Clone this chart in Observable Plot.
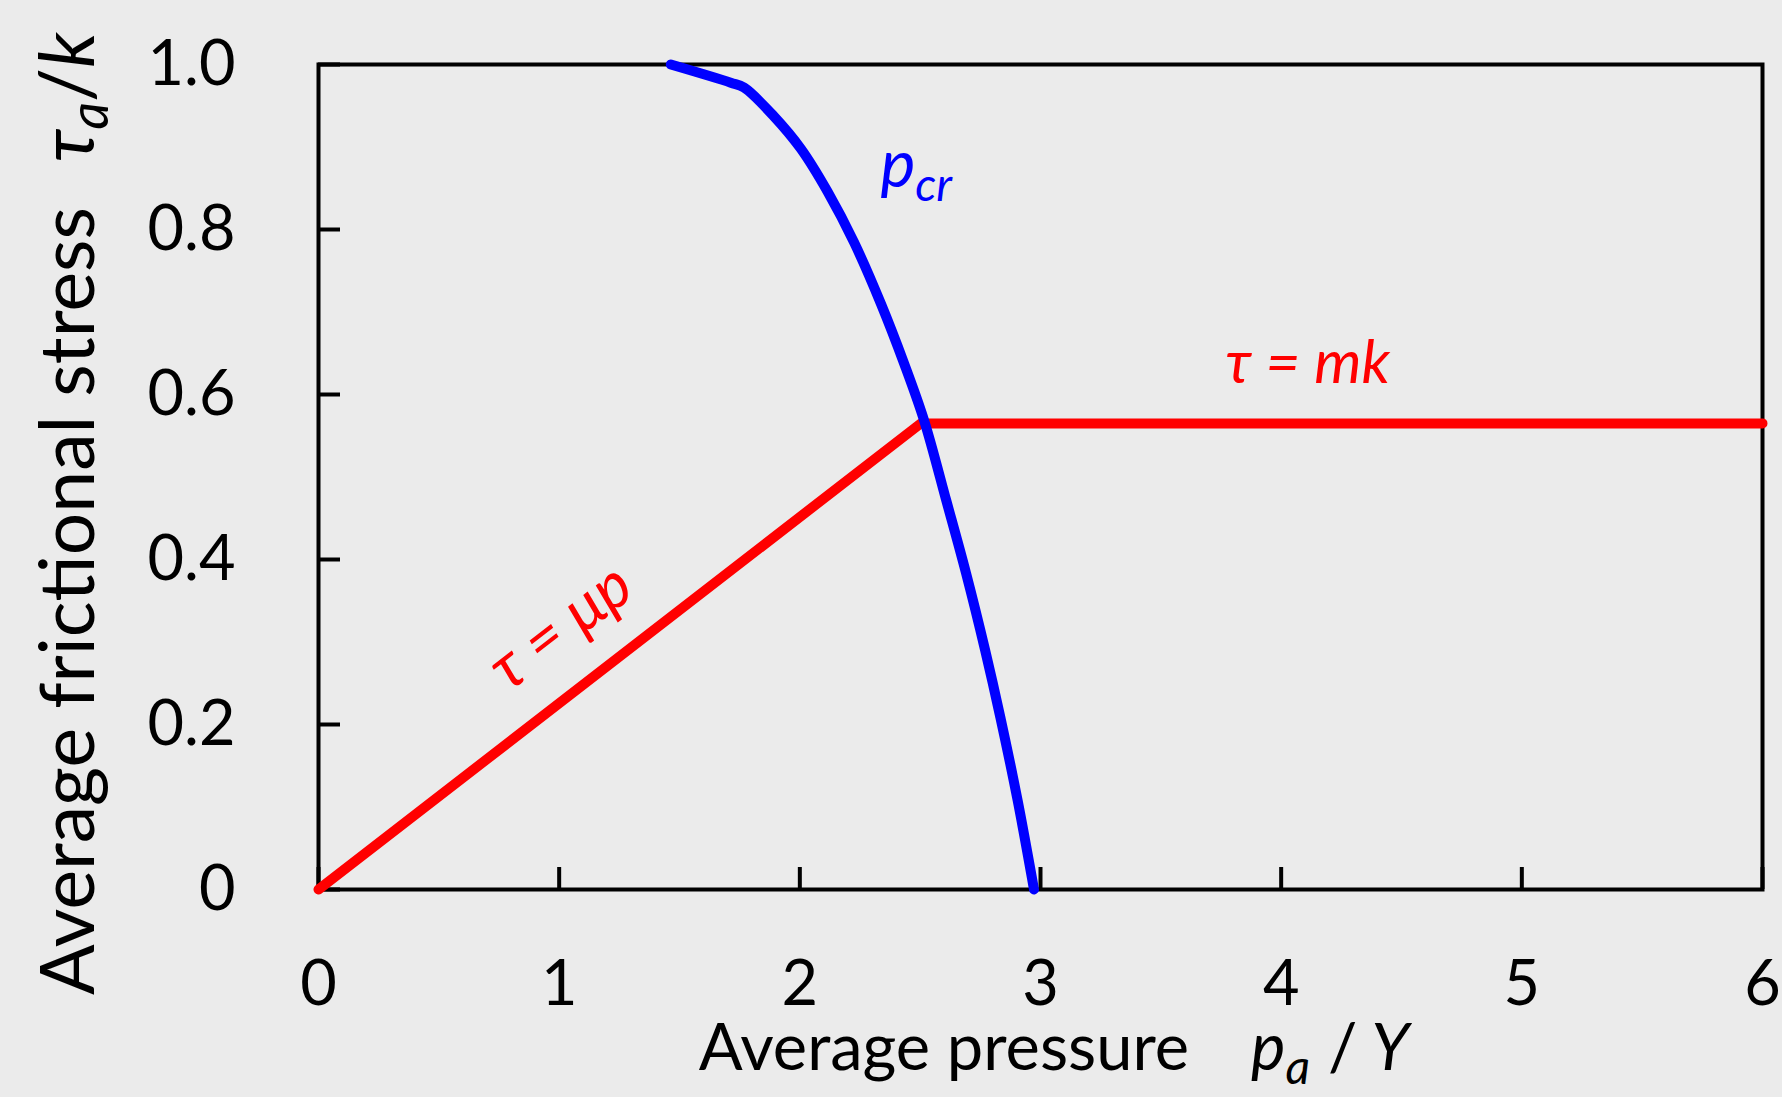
<!DOCTYPE html>
<html><head><meta charset="utf-8">
<script src="https://cdn.jsdelivr.net/npm/d3@7"></script>
<script src="https://cdn.jsdelivr.net/npm/@observablehq/plot@0.6"></script>
<style>
html,body{margin:0;padding:0;background:#ebebeb;}
#chart svg{display:block;}
</style></head><body><div id="chart"></div>
<script>
// ---- data ----
const xTicks = [0, 1, 2, 3, 4, 5, 6];
const yTicks = [0, 0.2, 0.4, 0.6, 0.8, 1.0];
// friction law: tau = mu p, then tau = m k
const frictionP   = [0, 2.503, 6];
const frictionTau = [0, 0.565, 0.565];
// critical pressure curve p_cr
const pcrP   = [1.464, 1.713, 1.768, 1.893, 2.004, 2.115, 2.226, 2.337, 2.434, 2.517, 2.609, 2.691, 2.770, 2.833, 2.905, 2.973];
const pcrTau = [1.000, 0.978, 0.972, 0.937, 0.898, 0.846, 0.784, 0.710, 0.637, 0.568, 0.471, 0.383, 0.290, 0.209, 0.108, 0.000];
// annotation anchors (data coordinates)
const labelPcr = {p: 2.337, tau: 0.851};
const labelMk  = {p: 3.771, tau: 0.613};
const labelMu  = {p: 1.06, tau: 0.298};

const red = frictionP.map((p, i) => ({p, tau: frictionTau[i]}));
const blue = pcrP.map((p, i) => ({p, tau: pcrTau[i]}));

const W = 1782, H = 1097;
const mL = 318, mR = 20, mT = 64, mB = 208;
const FONT = "Lato, 'Open Sans', sans-serif";

const plot = Plot.plot({
  width: W, height: H,
  marginLeft: mL, marginRight: mR, marginTop: mT, marginBottom: mB,
  style: {background: "#ebebeb", fontFamily: FONT, color: "black", overflow: "visible"},
  x: {domain: [0, 6]},
  y: {domain: [0, 1]},
  marks: [
    Plot.frame({stroke: "black", strokeWidth: 4}),
    Plot.axisX(xTicks, {tickSize: -22, tickPadding: 93, strokeWidth: 4, fontSize: 63, label: null, tickFormat: d => String(d)}),
    Plot.axisY(yTicks, {tickSize: -22, tickPadding: 105, strokeWidth: 4, fontSize: 63, label: null, tickFormat: d => d === 0 ? "0" : d.toFixed(1)}),
    Plot.line(red, {x: "p", y: "tau", stroke: "#ff0000", strokeWidth: 10, strokeLinejoin: "round"}),
    Plot.line(blue, {x: "p", y: "tau", stroke: "#0000ff", strokeWidth: 10, curve: "catmull-rom", strokeLinecap: "round", strokeLinejoin: "round"})
  ]
});
document.getElementById("chart").appendChild(plot);

const sx = plot.scale("x"), sy = plot.scale("y");
const svg = d3.select(plot);
const g = svg.append("g").attr("font-family", FONT);

// y axis title
{
  const t = g.append("text").attr("transform", `translate(94, 995) rotate(-90)`).attr("text-anchor", "start").attr("font-size", 75).attr("fill", "black");
  t.append("tspan").text("Average frictional stress");
  t.append("tspan").attr("dx", 45).attr("font-style", "italic").text("τ");
  t.append("tspan").attr("font-style", "italic").attr("font-size", 54).attr("dy", 14).text("a");
  t.append("tspan").attr("dy", -14).text("/");
  t.append("tspan").attr("font-style", "italic").text("k");
}
// x axis title
{
  const t = g.append("text").attr("x", 1054).attr("y", 1070).attr("text-anchor", "middle").attr("font-size", 65).attr("fill", "black");
  t.append("tspan").text("Average pressure");
  t.append("tspan").attr("dx", 62).attr("font-style", "italic").text("p");
  t.append("tspan").attr("font-style", "italic").attr("font-size", 48).attr("dy", 14).text("a");
  t.append("tspan").attr("dy", -14).attr("dx", 18).text("/");
  t.append("tspan").attr("dx", 14).attr("font-style", "italic").text("Y");
}
// p_cr label
{
  const t = g.append("text").attr("x", sx.apply(labelPcr.p)).attr("y", sy.apply(labelPcr.tau)).attr("text-anchor", "start").attr("font-size", 66).attr("fill", "#0000ff").attr("font-style", "italic");
  t.append("tspan").text("p");
  t.append("tspan").attr("font-size", 46).attr("dy", 14).text("cr");
}
// tau = mk
{
  const t = g.append("text").attr("x", sx.apply(labelMk.p)).attr("y", sy.apply(labelMk.tau)).attr("text-anchor", "start").attr("font-size", 60).attr("fill", "#ff0000").attr("font-style", "italic");
  t.text("τ = mk");
}
// tau = mu p (rotated along line)
{
  const x0 = sx.apply(labelMu.p), y0 = sy.apply(labelMu.tau);
  const t = g.append("text").attr("transform", `translate(${x0},${y0}) rotate(-37.7)`).attr("text-anchor", "middle").attr("font-size", 63).attr("fill", "#ff0000").attr("font-style", "italic");
  t.text("τ = μp");
}
</script></body></html>
